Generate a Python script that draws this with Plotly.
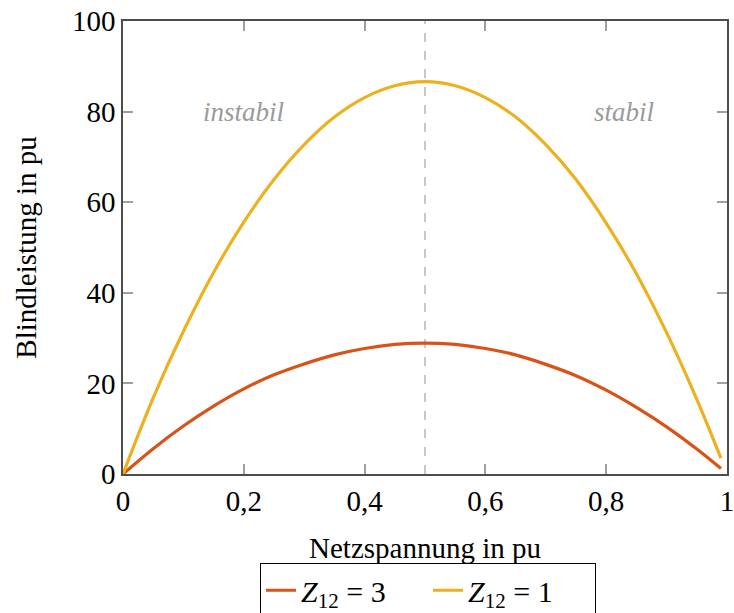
import plotly.graph_objects as go

# Data
x_vals = [0, 0.05, 0.1, 0.15, 0.2, 0.25, 0.3, 0.35, 0.4, 0.45, 0.5,
          0.55, 0.6, 0.65, 0.7, 0.75, 0.8, 0.85, 0.9, 0.95, 0.99]
q_z1 = [0, 16.8, 31.5, 44.5, 55.6, 65.0, 72.7, 78.8, 83.1, 85.7, 86.6,
        85.7, 83.1, 78.8, 72.7, 65.0, 55.4, 44.2, 31.2, 16.5, 3.5]
q_z3 = [0, 5.6, 10.6, 15.0, 18.8, 21.9, 24.3, 26.3, 27.7, 28.6, 28.9,
        28.6, 27.7, 26.3, 24.2, 21.7, 18.5, 14.7, 10.4, 5.5, 1.2]

x_ticks = [0, 0.2, 0.4, 0.6, 0.8, 1]
x_tick_labels = ["0", "0,2", "0,4", "0,6", "0,8", "1"]
y_ticks = [0, 20, 40, 60, 80, 100]
y_tick_labels = ["0", "20", "40", "60", "80", "100"]

FONT = "Liberation Serif, DejaVu Serif, serif"
RED = "#D95319"
YELLOW = "#EDB120"
FRAME = "#4d4d4d"
TICK = "#a0a0a0"

fig = go.Figure()
fig.add_trace(go.Scatter(x=x_vals, y=q_z3, mode="lines", line=dict(color=RED, width=3.2, shape="spline"),
                         name="<i>Z</i><sub>12</sub> = 3"))
fig.add_trace(go.Scatter(x=x_vals, y=q_z1, mode="lines", line=dict(color=YELLOW, width=3.2, shape="spline"),
                         name="<i>Z</i><sub>12</sub> = 1"))

fig.add_shape(type="line", x0=0.5, x1=0.5, y0=0, y1=100, xref="x", yref="y",
              line=dict(color="#c8c8c8", width=2, dash="dash"), layer="below")

fig.add_annotation(x=0.2, y=80, text="<i>instabil</i>", showarrow=False,
                   font=dict(family=FONT, size=27, color="#9a9a9a"))
fig.add_annotation(x=0.83, y=80, text="<i>stabil</i>", showarrow=False,
                   font=dict(family=FONT, size=27, color="#9a9a9a"))

axis_common = dict(showline=True, linecolor=FRAME, linewidth=1.5, mirror="ticks",
                   ticks="inside", ticklen=10, tickwidth=1.5, tickcolor=TICK,
                   showgrid=False, zeroline=False, automargin=False,
                   ticklabeloverflow="allow",
                   tickfont=dict(family=FONT, size=29, color="black"))

fig.update_xaxes(range=[0, 1], tickvals=x_ticks, ticktext=x_tick_labels,
                 title=dict(text="Netzspannung in pu", font=dict(family=FONT, size=29, color="black"), standoff=22),
                 **axis_common)
fig.update_yaxes(range=[0, 100], tickvals=y_ticks, ticktext=y_tick_labels,
                 title=dict(text="Blindleistung in pu", font=dict(family=FONT, size=29, color="black"), standoff=27),
                 **axis_common)

fig.update_layout(
    width=734, height=613,
    margin=dict(l=123, r=7, t=21, b=139, autoexpand=False),
    plot_bgcolor="white", paper_bgcolor="white",
    font=dict(family=FONT, size=29, color="black"),
    separators=",.",
    showlegend=True,
    legend=dict(orientation="h", x=0.505, xanchor="center", y=-0.197, yanchor="top",
                bordercolor="black", borderwidth=1, bgcolor="white",
                font=dict(family=FONT, size=30, color="black"),
                entrywidth=122, entrywidthmode="pixels",
                itemwidth=30, tracegroupgap=0),
)

fig.write_html("out.html")
